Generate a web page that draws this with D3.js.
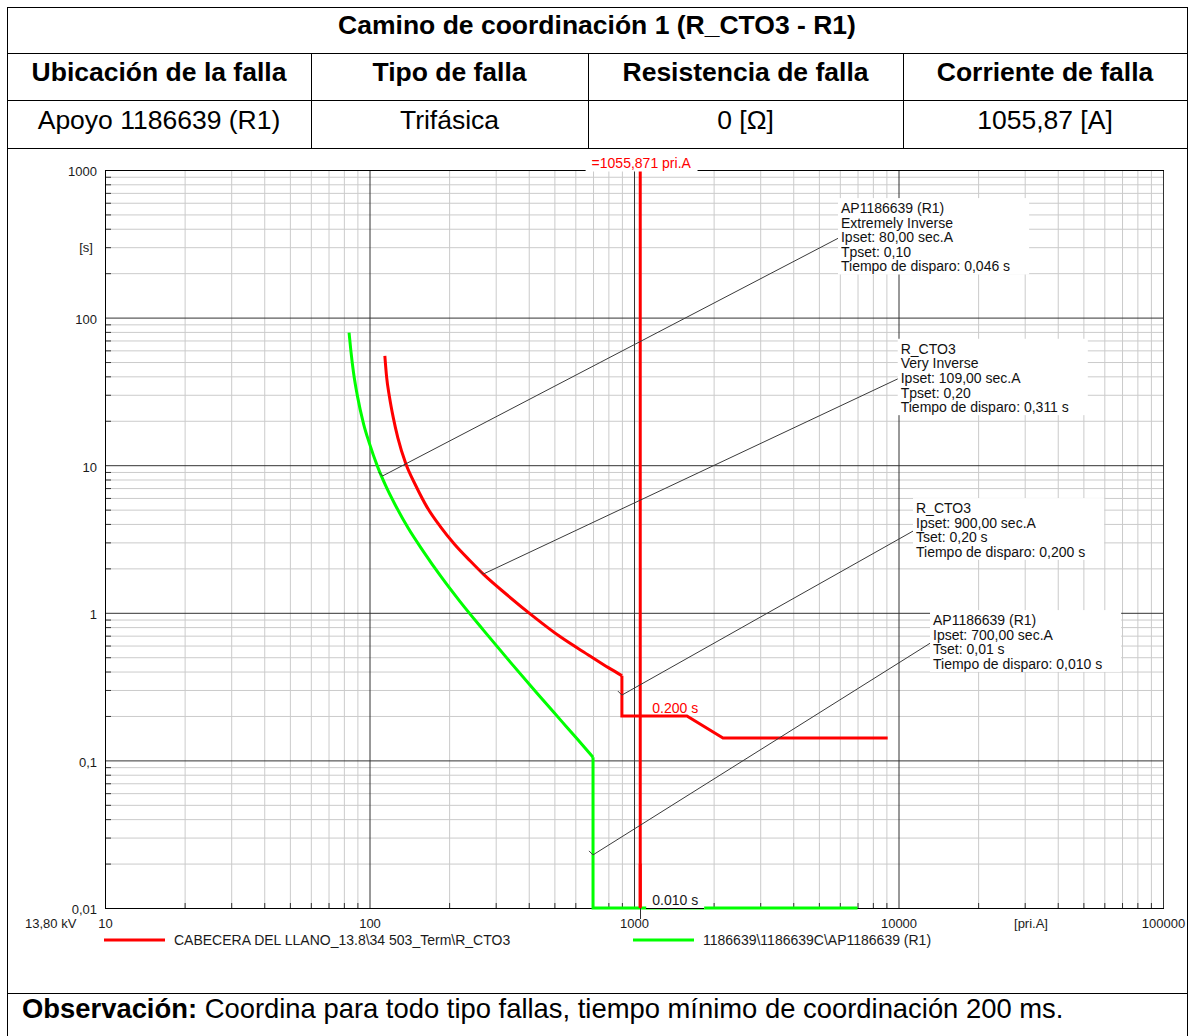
<!DOCTYPE html>
<html><head><meta charset="utf-8">
<script src="https://cdn.jsdelivr.net/npm/d3@7"></script>
<style>
html,body{margin:0;padding:0;background:#fff;}
svg{display:block;font-family:"Liberation Sans",Arial,Helvetica,sans-serif;}
</style></head><body>
<svg id="c" width="1194" height="1036"></svg>
<script>
// ---------- DATA ----------
const titleText = "Camino de coordinación 1 (R_CTO3 - R1)";
const headerLabels = ["Ubicación de la falla", "Tipo de falla", "Resistencia de falla", "Corriente de falla"];
const rowValues = ["Apoyo 1186639 (R1)", "Trifásica", "0 [Ω]", "1055,87 [A]"];
const obsBold = "Observación:";
const obsText = " Coordina para todo tipo fallas, tiempo mínimo de coordinación 200 ms.";

const xTickValues = [10, 100, 1000, 10000, 100000];
const xTickLabels = ["10", "100", "1000", "10000", "100000"];
const yTickValues = [0.01, 0.1, 1, 10, 100, 1000];
const yTickLabels = ["0,01", "0,1", "1", "10", "100", "1000"];
const xUnit = "[pri.A]";
const yUnit = "[s]";
const voltageLabel = "13,80 kV";

// R_CTO3 (red) curve: current [A], time [s]
const redI = [114.3, 116, 119, 123, 128, 137, 150, 165, 185, 210, 240, 270, 330, 415, 525, 682, 800, 900, 900, 1585, 2170, 9100];
const redT = [55, 40, 29, 21, 15.3, 10.3, 7.2, 5.2, 3.85, 2.9, 2.25, 1.82, 1.33, 0.95, 0.69, 0.51, 0.425, 0.375, 0.2, 0.2, 0.142, 0.142];
const redSmoothEnd = 17;
// AP1186639 (R1) (green) curve
const greenI = [83.7, 85, 87, 90, 95, 100, 107, 115, 125, 140, 160, 185, 220, 270, 340, 430, 530, 608, 700, 700, 7000];
const greenT = [79, 60, 42.5, 29.5, 19, 14, 9.9, 7.3, 5.4, 3.75, 2.6, 1.79, 1.19, 0.76, 0.465, 0.285, 0.186, 0.1406, 0.105, 0.01, 0.01];
const greenSmoothEnd = 18;

const faultCurrent = 1055.871;
const faultLabel = "=1055,871 pri.A";
const redTripTime = 0.2, redTripLabel = "0.200 s";
const greenTripTime = 0.01, greenTripLabel = "0.010 s";

const legendLabels = ["CABECERA DEL LLANO_13.8\\34 503_Term\\R_CTO3", "1186639\\1186639C\\AP1186639 (R1)"];
const legendColors = ["#ff0000", "#00ff00"];

const annoLines = [
  ["AP1186639 (R1)", "Extremely Inverse", "Ipset: 80,00 sec.A", "Tpset: 0,10", "Tiempo de disparo: 0,046 s"],
  ["R_CTO3", "Very Inverse", "Ipset: 109,00 sec.A", "Tpset: 0,20", "Tiempo de disparo: 0,311 s"],
  ["R_CTO3", "Ipset: 900,00 sec.A", "Tset: 0,20 s", "Tiempo de disparo: 0,200 s"],
  ["AP1186639 (R1)", "Ipset: 700,00 sec.A", "Tset: 0,01 s", "Tiempo de disparo: 0,010 s"]
];
const annoAnchorI = [112, 269.3, 900, 700];
const annoAnchorT = [8.45, 1.83, 0.277, 0.0229];
const annoLabelI = [6009, 10106, 11545, 13389];
const annoLabelT = [350, 39.0, 3.64, 0.634];

// ---------- LAYOUT ----------
const svg = d3.select("#c");
const colX = [7, 311, 588, 903, 1187];
const rowY = [7, 53, 100, 148, 993];
const x = d3.scaleLog().domain([10, 100000]).range([105, 1163]);
const y = d3.scaleLog().domain([0.01, 1000]).range([908, 170]);
const TXT = "#1a1a1a";

// ---------- TABLE ----------
const tb = svg.append("g").attr("shape-rendering", "crispEdges").attr("stroke", "#000").attr("stroke-width", 1);
rowY.forEach(v => tb.append("line").attr("x1", colX[0]).attr("x2", colX[4]).attr("y1", v + 0.5).attr("y2", v + 0.5));
tb.append("line").attr("x1", colX[0] + 0.5).attr("x2", colX[0] + 0.5).attr("y1", rowY[0]).attr("y2", 1036);
tb.append("line").attr("x1", colX[4] + 0.5).attr("x2", colX[4] + 0.5).attr("y1", rowY[0]).attr("y2", 1036);
[1, 2, 3].forEach(i => tb.append("line").attr("x1", colX[i] + 0.5).attr("x2", colX[i] + 0.5).attr("y1", rowY[1]).attr("y2", rowY[3]));

svg.append("text").attr("x", (colX[0] + colX[4]) / 2).attr("y", 33.5).attr("text-anchor", "middle")
  .attr("font-size", 26.5).attr("font-weight", "bold").attr("fill", "#000").text(titleText);
headerLabels.forEach((t, i) => svg.append("text").attr("x", (colX[i] + colX[i + 1]) / 2).attr("y", 81)
  .attr("text-anchor", "middle").attr("font-size", 26.5).attr("font-weight", "bold").attr("fill", "#000").text(t));
rowValues.forEach((t, i) => svg.append("text").attr("x", (colX[i] + colX[i + 1]) / 2).attr("y", 128.5)
  .attr("text-anchor", "middle").attr("font-size", 26.5).attr("fill", "#000").text(t));
const ob = svg.append("text").attr("x", 22).attr("y", 1018).attr("font-size", 27.4).attr("fill", "#000");
ob.append("tspan").attr("font-weight", "bold").text(obsBold);
ob.append("tspan").style("white-space", "pre").text(obsText);

// ---------- GRID ----------
const xMinor = [];
[10, 100, 1000, 10000].forEach(d => { for (let k = 2; k <= 9; k++) xMinor.push(d * k); });
const yMinor = [];
[0.01, 0.1, 1, 10, 100].forEach(d => { for (let k = 2; k <= 9; k++) yMinor.push(+(d * k).toPrecision(6)); });
const plotH = y(0.01) - y(1000), plotW = x(100000) - x(10);

const gxm = svg.append("g").attr("transform", `translate(0,${y(0.01)})`)
  .call(d3.axisBottom(x).tickValues(xMinor).tickSize(-plotH).tickFormat(""));
gxm.select(".domain").remove(); gxm.selectAll("line").attr("stroke", "#cbcbcb");
const gym = svg.append("g").attr("transform", `translate(${x(10)},0)`)
  .call(d3.axisLeft(y).tickValues(yMinor).tickSize(-plotW).tickFormat(""));
gym.select(".domain").remove(); gym.selectAll("line").attr("stroke", "#cbcbcb");

const gxM = svg.append("g").attr("transform", `translate(0,${y(0.01)})`)
  .call(d3.axisBottom(x).tickValues(xTickValues).tickSize(-plotH).tickFormat(""));
gxM.select(".domain").remove(); gxM.selectAll("line").attr("stroke", "#333");
const gyM = svg.append("g").attr("transform", `translate(${x(10)},0)`)
  .call(d3.axisLeft(y).tickValues(yTickValues).tickSize(-plotW).tickFormat(""));
gyM.select(".domain").remove(); gyM.selectAll("line").attr("stroke", "#333");

// small axis ticks
const tL = svg.append("g").attr("transform", `translate(${x(10)},0)`)
  .call(d3.axisRight(y).tickValues(yMinor).tickSize(6).tickFormat(""));
tL.select(".domain").remove(); tL.selectAll("line").attr("stroke", "#333");
const tB = svg.append("g").attr("transform", `translate(0,${y(0.01)})`)
  .call(d3.axisTop(x).tickValues(xMinor).tickSize(5).tickFormat(""));
tB.select(".domain").remove(); tB.selectAll("line").attr("stroke", "#333");

// frame
const fr = svg.append("g").attr("stroke", "#000").attr("shape-rendering", "crispEdges");
fr.append("line").attr("x1", x(10)).attr("x2", x(100000) + 1).attr("y1", y(1000) + 0.5).attr("y2", y(1000) + 0.5);
fr.append("line").attr("x1", x(10)).attr("x2", x(100000) + 1).attr("y1", y(0.01) + 0.5).attr("y2", y(0.01) + 0.5);
fr.append("line").attr("x1", x(10) + 0.5).attr("x2", x(10) + 0.5).attr("y1", y(1000)).attr("y2", y(0.01) + 1);

// ---------- CURVES ----------
svg.append("line").attr("x1", x(faultCurrent)).attr("x2", x(faultCurrent))
  .attr("y1", y(1000) + 1).attr("y2", y(0.01)).attr("stroke", "#ff0000").attr("stroke-width", 3);

function drawCurve(I, T, smoothEnd, color) {
  const idx = d3.range(I.length);
  const smooth = d3.line().x(i => x(I[i])).y(i => y(T[i])).curve(d3.curveMonotoneX);
  const lin = d3.line().x(i => x(I[i])).y(i => y(T[i]));
  svg.append("path").attr("d", smooth(idx.slice(0, smoothEnd + 1))).attr("fill", "none")
    .attr("stroke", color).attr("stroke-width", 3).attr("stroke-linejoin", "round");
  svg.append("path").attr("d", lin(idx.slice(smoothEnd))).attr("fill", "none")
    .attr("stroke", color).attr("stroke-width", 3).attr("stroke-linejoin", "miter");
}
drawCurve(redI, redT, redSmoothEnd, "#ff0000");
drawCurve(greenI, greenT, greenSmoothEnd, "#00ff00");

// ---------- ANNOTATIONS ----------
const LH = 14.6;
annoLines.forEach((lines, k) => {
  const ax = x(annoAnchorI[k]), ay = y(annoAnchorT[k]);
  const lx = x(annoLabelI[k]), ly = y(annoLabelT[k]);
  svg.append("line").attr("x1", ax).attr("y1", ay).attr("x2", lx).attr("y2", ly)
    .attr("stroke", "#3a3a3a").attr("stroke-width", 1);
  svg.append("line").attr("x1", ax).attr("y1", ay).attr("x2", ax - 4).attr("y2", ay - 4)
    .attr("stroke", "#3a3a3a").attr("stroke-width", 1);
  const g = svg.append("g");
  const bg = g.append("rect").attr("fill", "#fff");
  const n = lines.length;
  let maxW = 0;
  lines.forEach((t, j) => {
    const cy = ly + (j - (n - 1) / 2) * LH;
    const tx = g.append("text").attr("x", lx + 1).attr("y", cy + 5).attr("font-size", 14).attr("fill", "#111").text(t);
    maxW = Math.max(maxW, tx.node().getComputedTextLength());
  });
  const top = ly - (n - 1) / 2 * LH - 10;
  bg.attr("x", lx - 2).attr("y", top).attr("width", maxW + 22).attr("height", (n - 1) * LH + 18);
});

// labels with white background
function bgLabel(tx, ty, text, color, anchor, padX, padTop, padBot) {
  const g = svg.append("g");
  const r = g.append("rect").attr("fill", "#fff");
  const t = g.append("text").attr("x", tx).attr("y", ty).attr("font-size", 14).attr("fill", color)
    .attr("text-anchor", anchor).text(text);
  const b = t.node().getBBox();
  r.attr("x", b.x - padX).attr("y", b.y - padTop).attr("width", b.width + 2 * padX).attr("height", b.height + padTop + padBot);
  return { x: b.x - padX, w: b.width + 2 * padX };
}
// fault current label centred on the fault line, breaking the top frame line
(function () {
  const g = svg.append("g");
  const r = g.append("rect").attr("fill", "#fff");
  const t = g.append("text").attr("x", x(faultCurrent) + 1).attr("y", y(1000) - 2.5).attr("font-size", 14)
    .attr("fill", "#ff0000").attr("text-anchor", "middle").text(faultLabel);
  const b = t.node().getBBox();
  r.attr("x", b.x - 6).attr("width", b.width + 12).attr("y", b.y - 1).attr("height", y(1000) - b.y + 2.5);
})();
bgLabel(x(faultCurrent) + 12, y(redTripTime) - 3, redTripLabel, "#ff0000", "start", 2, 0, -2);
const gl = bgLabel(x(faultCurrent) + 12, y(greenTripTime) - 3, greenTripLabel, "#1a1a1a", "start", 6, 0, 1);
svg.append("line").attr("x1", gl.x).attr("x2", gl.x + gl.w).attr("y1", y(0.01) + 0.5).attr("y2", y(0.01) + 0.5)
  .attr("stroke", "#000").attr("shape-rendering", "crispEdges");
// fault marker tick crossing the time axis
svg.append("line").attr("x1", Math.round(x(faultCurrent)) + 0.5).attr("x2", Math.round(x(faultCurrent)) + 0.5)
  .attr("y1", y(0.01) - 3).attr("y2", y(0.01) + 11).attr("stroke", "#333");
svg.append("line").attr("x1", x(faultCurrent)).attr("x2", x(faultCurrent))
  .attr("y1", y(0.02)).attr("y2", y(0.01)).attr("stroke", "#ff0000").attr("stroke-width", 3);

// ---------- AXIS LABELS ----------
const axB = svg.append("g").attr("transform", `translate(0,${y(0.01)})`)
  .call(d3.axisBottom(x).tickValues(xTickValues).tickFormat((d, i) => xTickLabels[i]).tickSize(0).tickPadding(10.4));
axB.select(".domain").remove();
axB.selectAll("text").attr("font-size", 13).attr("fill", TXT).attr("font-family", null);
const axL = svg.append("g").attr("transform", `translate(97,0)`)
  .call(d3.axisLeft(y).tickValues(yTickValues).tickFormat((d, i) => yTickLabels[i]).tickSize(0).tickPadding(0));
axL.select(".domain").remove();
axL.selectAll("text").attr("font-size", 13).attr("fill", TXT).attr("dy", "0.45em").attr("font-family", null);

svg.append("text").attr("x", 86).attr("y", 251.5).attr("text-anchor", "middle").attr("font-size", 13).attr("fill", TXT).text(yUnit);
svg.append("text").attr("x", 1031).attr("y", 927.6).attr("text-anchor", "middle").attr("font-size", 13).attr("fill", TXT).text(xUnit);
svg.append("text").attr("x", 25).attr("y", 927.6).attr("font-size", 13).attr("fill", TXT).text(voltageLabel);

// ---------- LEGEND ----------
const legX = [104, 633];
legendLabels.forEach((t, i) => {
  svg.append("line").attr("x1", legX[i]).attr("x2", legX[i] + 61).attr("y1", 940).attr("y2", 940)
    .attr("stroke", legendColors[i]).attr("stroke-width", 3);
  svg.append("text").attr("x", legX[i] + 70).attr("y", 945).attr("font-size", 14).attr("fill", TXT).text(t);
});
</script>
</body></html>
